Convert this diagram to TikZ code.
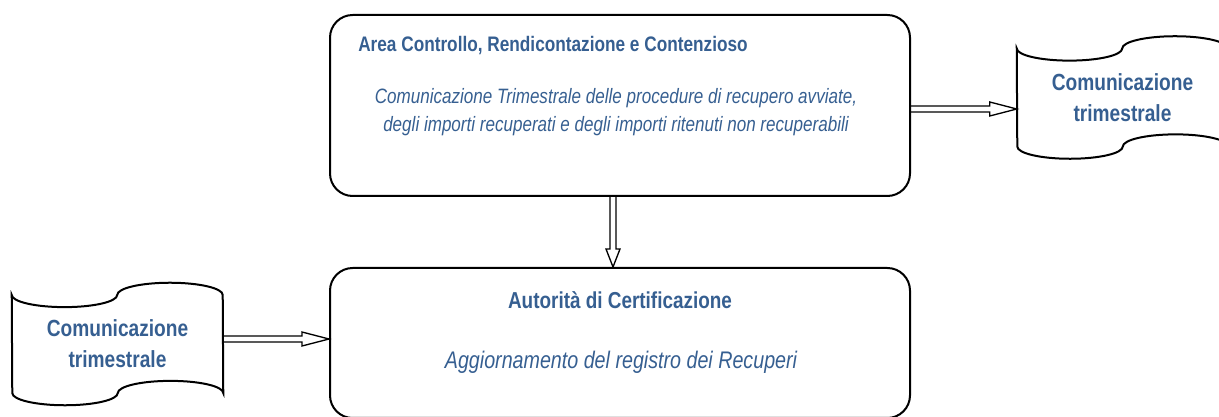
\documentclass[tikz,border=0pt]{standalone}
\usepackage{fontspec}
\setmainfont[FakeStretch=0.82]{Liberation Sans}
\usetikzlibrary{calc}
\definecolor{txtblue}{HTML}{365F91}
\tikzset{
  boxline/.style={draw=black, line width=1.5pt, rounded corners=17pt, inner sep=0pt},
  tapebox/.style={inner sep=0pt, minimum width=158.25pt, minimum height=91.5pt, align=center,
     text=txtblue, font=\bfseries\fontsize{17.5}{23.25}\selectfont},
  tapeline/.style={draw=black, line width=1.5pt, fill=white},
  arrowline/.style={draw=black, line width=1pt, line join=miter},
  titletxt/.style={inner sep=0pt, text=txtblue},
}
\newcommand\tapeoutline[1]{%
  \draw[tapeline] ($(#1.north west)+(0,-12.2)$)
    arc[start angle=180,end angle=360,x radius=39.56pt,y radius=9.15pt]
    arc[start angle=180,end angle=0,x radius=39.56pt,y radius=9.15pt]
    -- ($(#1.south east)+(0,12.2)$)
    arc[start angle=0,end angle=180,x radius=39.56pt,y radius=9.15pt]
    arc[start angle=0,end angle=-180,x radius=39.56pt,y radius=9.15pt]
    -- cycle;}
\newcommand\harrowline[2]{%
  \draw[arrowline] ($(#1)+(0,3)$) -- ($(#2)+(-27,3)$) -- ($(#2)+(-27,7)$) -- (#2)
    -- ($(#2)+(-27,-7)$) -- ($(#2)+(-27,-3)$) -- ($(#1)+(0,-3)$);}
\newcommand\varrowline[2]{%
  \draw[arrowline] ($(#1)+(-3,0)$) -- ($(#2)+(-3,18)$) -- ($(#2)+(-7,18)$) -- (#2)
    -- ($(#2)+(7,18)$) -- ($(#2)+(3,18)$) -- ($(#1)+(3,0)$);}
\begin{document}
\begin{tikzpicture}[x=0.75pt,y=0.75pt]
\useasboundingbox (0,0) rectangle (1219,417);
% boxes
\node[boxline, minimum width=435pt, minimum height=135.75pt] (top) at (620,311.5) {};
\node[boxline, minimum width=435pt, minimum height=112.5pt] (bot) at (620,74) {};
% texts in top box
\node[titletxt, anchor=west, font=\bfseries\fontsize{15.75}{19}\selectfont] (toptitle) at (358,371)
  {Area Controllo, Rendicontazione e Contenzioso};
\node[titletxt, align=center, font=\itshape\fontsize{15.6}{21}\selectfont] (toptext) at (616,305)
  {Comunicazione Trimestrale delle procedure di recupero avviate,\\degli importi recuperati e degli importi ritenuti non recuperabili};
% texts in bottom box
\node[titletxt, font=\bfseries\fontsize{17.3}{21}\selectfont] (bottitle) at (620,117)
  {Autorità di Certificazione};
\node[titletxt, font=\itshape\fontsize{18}{22}\selectfont] (bottext) at (621,55)
  {Aggiornamento del registro dei Recuperi};
% tapes
\node[tapebox] (tapeR) at (1122.5,319.5) {};
\tapeoutline{tapeR}
\node[tapebox] (tapeRtxt) at (tapeR) {Comunicazione\\trimestrale};
\node[tapebox] (tapeL) at (117.5,73) {};
\tapeoutline{tapeL}
\node[tapebox] (tapeLtxt) at (tapeL) {Comunicazione\\trimestrale};
% arrows
\coordinate (ra1) at ($(top.east)+(0,-3.5)$);
\coordinate (ra2) at (tapeR.west |- ra1);
\harrowline{ra1}{ra2}
\coordinate (la1) at ($(tapeL.east)+(0,5)$);
\coordinate (la2) at (bot.west |- la1);
\harrowline{la1}{la2}
\coordinate (da1) at ($(top.south)+(-7,0)$);
\coordinate (da2) at (bot.north -| da1);
\varrowline{da1}{da2}
\end{tikzpicture}
\end{document}
